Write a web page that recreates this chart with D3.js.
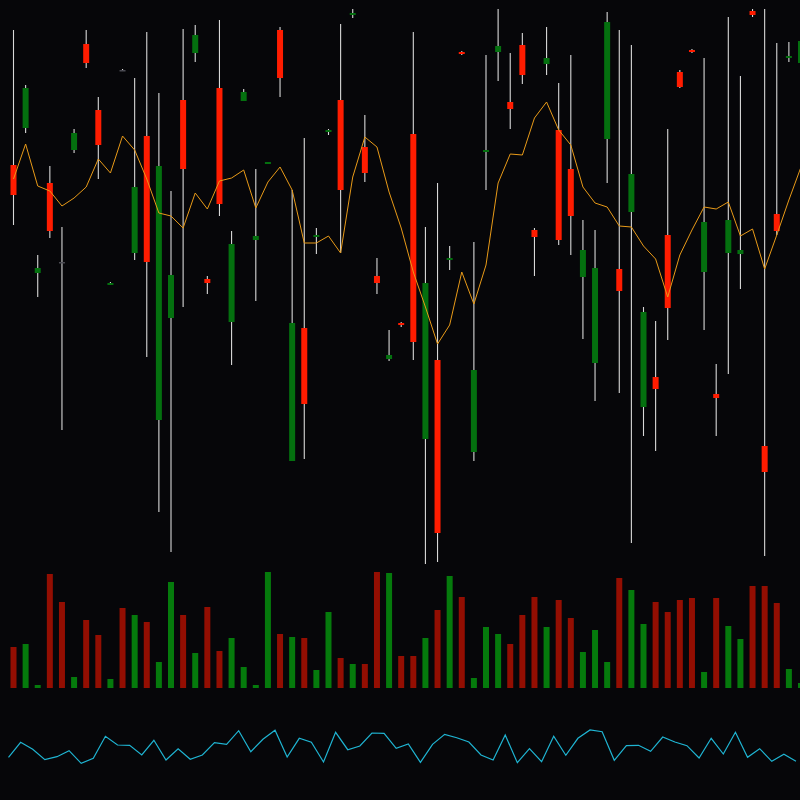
<!DOCTYPE html>
<html><head><meta charset="utf-8">
<script src="https://cdn.jsdelivr.net/npm/d3@7/dist/d3.min.js"></script>
<style>html,body{margin:0;padding:0;background:#060609;}svg{display:block;}</style>
</head><body>
<svg id="chart" width="800" height="800"></svg>
<script>
const openP  = [435,472,327,417,338,450,556,490,315,530,347,464,180,282,500,547,321,512,278,499,360,436,570,139,272,363,468,500,585,453,324,241,277,466,161,240,340,548,148,448,548,498,555,370,536,470,431,323,237,461,331,388,193,223,365,528,550,328,206,347,346,589,154,386,542,537];
const highP  = [570,515,345,434,373,471,570,503,318,531,522,568,507,409,571,575,324,580,369,511,431,438,573,410,462,372,471,576,591,485,342,270,278,568,373,417,354,549,358,545,591,547,567,372,573,517,545,380,370,588,570,555,293,279,471,530,551,542,236,583,524,591,591,557,558,565];
const lowP   = [375,467,303,362,170,447,532,421,315,529,340,243,88,48,293,538,306,384,235,499,299,436,503,139,141,346,465,347,582,418,306,239,273,240,36,38,330,545,139,410,519,471,516,324,525,355,345,261,199,417,207,57,164,149,260,512,547,270,164,226,311,583,44,365,538,530];
const closeP = [405,512,332,369,338,467,537,455,317,530,413,338,434,325,431,565,317,396,356,508,364,438,522,277,196,365,470,410,587,427,317,245,275,258,317,67,342,546,230,450,554,491,525,363,542,360,384,350,332,578,309,426,288,211,292,513,548,378,202,380,350,585,128,369,544,559];
const volume = [41,44,3,114,86,11,68,53,9,80,73,66,26,106,73,35,81,37,50,21,3,116,54,51,50,18,76,30,24,24,116,115,32,32,50,78,112,91,10,61,54,44,73,91,61,88,70,36,58,26,110,98,64,86,76,88,90,16,90,62,49,102,102,85,19,5];
const volUp  = [0,1,1,0,0,1,0,0,1,0,1,0,1,1,0,1,0,0,1,1,1,1,0,1,0,1,1,0,1,0,0,1,0,0,1,0,1,0,1,1,1,0,0,0,1,0,0,1,1,1,0,1,1,0,0,0,0,1,0,1,1,0,0,0,1,1];
const maLine = [421,456,414,409,394,402,413,441,427,464,450,421,387,384,372,407,391,419,422,430,392,418,433,410,357,357,364,347,423,463,453,408,372,328,293,256,275,328,296,335,417,446,445,482,498,470,455,413,397,393,374,373,354,341,303,345,370,393,391,398,364,371,331,365,400,433];
const oscLine = [42.7,57.7,50.7,40.3,43.3,49.3,36.7,41.7,63.7,55,54.7,45,59.7,40,51.3,40.7,45,57.3,55.7,69.3,48.3,60.7,69.7,43,61.7,57.7,38,67.7,50.3,54,67,66.7,51.7,56,37.7,55.7,65.7,62.3,58,45,40,65,37.3,51.3,38.3,63.7,44.7,61.7,70,68.3,39.7,54.3,54.7,48.7,63,58,54.3,42,61.7,46,67.7,42.7,51.3,38.7,45.7,38.7];

const W = 800, H = 800;
const svg = d3.select('#chart');
svg.append('rect').attr('width', W).attr('height', H).attr('fill', '#060609');

const n = openP.length;
const idx = d3.range(n);
const x = d3.scaleLinear().domain([0, n - 1]).range([13.5, 801]);
const y = d3.scaleLinear().domain([0, 600]).range([600, 0]);
const yv = d3.scaleLinear().domain([0, 128]).range([688, 560]);
const yo = d3.scaleLinear().domain([0, 100]).range([800, 700]);

const bodyW = 6;
const RED = '#ff1c00', GREEN = '#04700f', DOJI = '#4a4a52';

const g = svg.append('g');
// wicks
g.selectAll('line.wick').data(idx).join('line')
  .attr('class', 'wick')
  .attr('x1', i => x(i)).attr('x2', i => x(i))
  .attr('y1', i => y(highP[i])).attr('y2', i => y(lowP[i]))
  .attr('stroke', '#d8d8d8').attr('stroke-width', 1.1);

// bodies
g.selectAll('rect.body').data(idx).join('rect')
  .attr('class', 'body')
  .attr('x', i => x(i) - bodyW / 2)
  .attr('width', bodyW)
  .attr('y', i => y(Math.max(openP[i], closeP[i])))
  .attr('height', i => Math.max(1.5, Math.abs(y(openP[i]) - y(closeP[i]))))
  .attr('fill', i => closeP[i] === openP[i] ? DOJI : (closeP[i] > openP[i] ? GREEN : RED));

// moving average (drawn over bodies)
g.append('path').datum(idx)
  .attr('d', d3.line().x(i => x(i)).y(i => y(maLine[i])))
  .attr('fill', 'none').attr('stroke', '#e89a18').attr('stroke-width', 1);

// volume
g.selectAll('rect.vol').data(idx).join('rect')
  .attr('class', 'vol')
  .attr('x', i => x(i) - 3)
  .attr('width', 6)
  .attr('y', i => yv(volume[i]))
  .attr('height', i => yv(0) - yv(volume[i]))
  .attr('fill', i => volUp[i] ? '#057a0c' : '#930e02');

// oscillator
g.append('path').datum(idx)
  .attr('d', d3.line().x(i => x(i) - 5).y(i => yo(oscLine[i])))
  .attr('fill', 'none').attr('stroke', '#1fb4d2').attr('stroke-width', 1.2);
</script>
</body></html>
